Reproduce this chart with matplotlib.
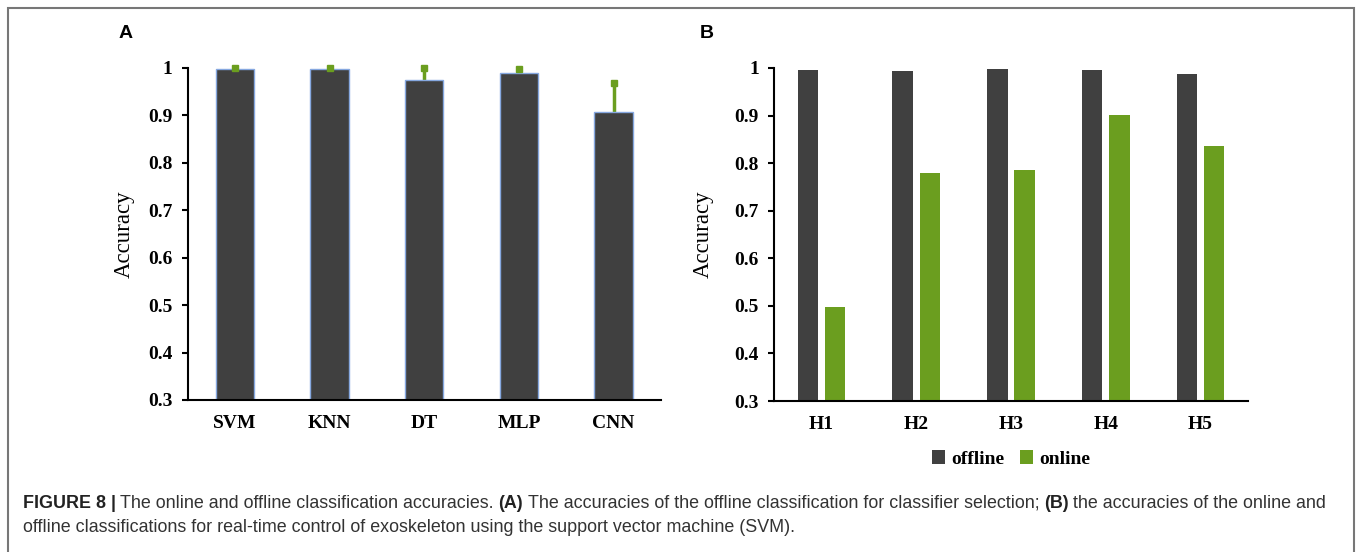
import numpy as np
import matplotlib
matplotlib.use('Agg')
import matplotlib.pyplot as plt
from matplotlib.patches import Rectangle

# panel A: offline accuracy per classifier
classifiers = ['SVM', 'KNN', 'DT', 'MLP', 'CNN']
acc_a = [0.998, 0.998, 0.974, 0.989, 0.907]
err_a = [0.001, 0.001, 0.025, 0.008, 0.061]

# panel B: offline / online per subject
subjects = ['H1', 'H2', 'H3', 'H4', 'H5']
offline = [0.996, 0.994, 0.998, 0.996, 0.987]
online = [0.497, 0.780, 0.785, 0.902, 0.835]

yticks = [0.3, 0.4, 0.5, 0.6, 0.7, 0.8, 0.9, 1.0]

DARK = '#404040'
GREEN = '#6B9E1F'
SERIF = ['Liberation Serif', 'DejaVu Serif']
SANS = ['Liberation Sans', 'DejaVu Sans']

W, H = 1357, 552
fig = plt.figure(figsize=(W / 100., H / 100.), dpi=100)


def px_axes(x0, x1, y_top, y_bot):
    return fig.add_axes([x0 / W, 1 - y_bot / H, (x1 - x0) / W, (y_bot - y_top) / H])


def style(ax, label_x):
    ax.set_ylim(0.3, 1.0)
    ax.set_xlim(-0.5, 4.5)
    ax.set_yticks(yticks)
    ax.set_yticklabels(['%g' % t for t in yticks])
    for s in ['top', 'right']:
        ax.spines[s].set_visible(False)
    for s in ['left', 'bottom']:
        ax.spines[s].set_linewidth(1.5)
    ax.tick_params(axis='y', length=4, width=1.5, pad=7)
    ax.tick_params(axis='x', length=0, pad=11)
    for t in ax.get_yticklabels() + ax.get_xticklabels():
        t.set_fontfamily(SERIF)
        t.set_fontweight('bold')
        t.set_fontsize(14)
    ax.set_ylabel('Accuracy', fontfamily=SERIF, fontsize=16.5)
    ax.yaxis.set_label_coords(label_x, 0.5)


# ---- panel A
axA = px_axes(187.5, 661, 68, 400)
x = np.arange(len(classifiers))
axA.bar(x, acc_a, width=0.405, color=DARK, edgecolor='#86A8E0', linewidth=1, zorder=2)
axA.errorbar(x, acc_a, yerr=[np.zeros(len(err_a)), err_a], fmt='none',
             ecolor=GREEN, elinewidth=2.5, capsize=0, zorder=1, clip_on=False)
axA.plot(x, np.array(acc_a) + np.array(err_a), linestyle='none', marker='s',
         markersize=4, color=GREEN, zorder=3, clip_on=False)
axA.set_xticks(x)
axA.set_xticklabels(classifiers)
style(axA, -0.111)

# ---- panel B
axB = px_axes(774, 1248, 68, 401)
xb = np.arange(len(subjects))
axB.bar(xb - 0.143, offline, width=0.216, color=DARK, label='offline', zorder=2)
axB.bar(xb + 0.143, online, width=0.216, color=GREEN, label='online', zorder=2)
axB.set_xticks(xb)
axB.set_xticklabels(subjects)
style(axB, -0.127)
axB.legend(loc='center', bbox_to_anchor=(0.5, -0.175), ncol=2, frameon=False,
           handlelength=0.7, handleheight=0.7, handletextpad=0.3, columnspacing=0.8,
           prop={'family': SERIF, 'weight': 'bold', 'size': 14})

# panel letters
fig.text(126 / W, 1 - 33 / H, 'A', fontfamily=SANS, fontweight='bold', fontsize=14,
         ha='center', va='center')
fig.text(707 / W, 1 - 33 / H, 'B', fontfamily=SANS, fontweight='bold', fontsize=14,
         ha='center', va='center')

# frame around the figure (no bottom edge visible)
fig.add_artist(Rectangle((8 / W, -0.1), (1354 - 8) / W, 1 - 8 / H + 0.1,
                         transform=fig.transFigure, fill=False,
                         edgecolor='#777777', linewidth=1.5))

# caption with bold pieces
renderer = fig.canvas.get_renderer()
cap_size = 12.9


def caption_line(pieces, y_px):
    xpos = 23.
    for text, bold in pieces:
        t = fig.text(xpos / W, 1 - y_px / H, text, fontfamily=SANS, fontsize=cap_size,
                     fontweight='bold' if bold else 'normal',
                     color='#222222' if bold else '#333333', va='center', ha='left')
        bb = t.get_window_extent(renderer)
        xpos += bb.width + 4.5


caption_line([('FIGURE 8 |', True),
              ('The online and offline classification accuracies.', False),
              ('(A)', True),
              ('The accuracies of the offline classification for classifier selection;', False),
              ('(B)', True),
              ('the accuracies of the online and', False)], 503)
caption_line([('offline classifications for real-time control of exoskeleton using the support vector machine (SVM).', False)], 527)

fig.savefig('out.png', dpi=100)
